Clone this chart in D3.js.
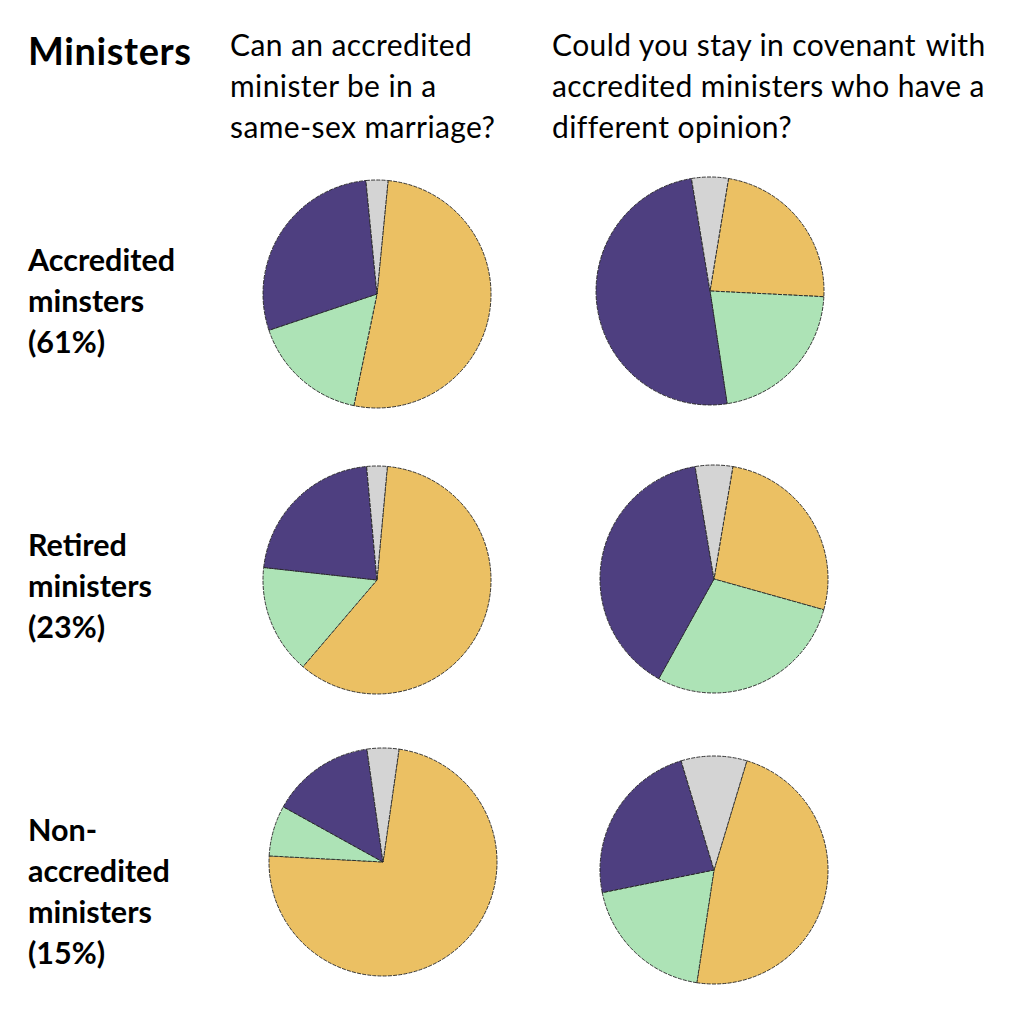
<!DOCTYPE html>
<html>
<head>
<meta charset="utf-8">
<script src="https://cdn.jsdelivr.net/npm/d3@7"></script>
<style>
  html, body { margin: 0; background: #fff; }
  svg { display: block; }
  text { font-family: Lato, "Open Sans", sans-serif; fill: #000; }
</style>
</head>
<body>
<svg id="chart" width="1024" height="1030"></svg>
<script>
// answers, same order clockwise in every pie
var answers = ["Yes", "No", "Other", "Don't know"];
var colours = ["#ebc063", "#ade3b6", "#4e3f80", "#d4d4d4"];

// share of answers (%)
var marriageAccredited = [51.7, 16.6, 28.6, 3.1];
var marriageRetired    = [59.8, 15.5, 21.8, 2.9];
var marriageNon        = [73.6, 7.2, 14.7, 4.5];
var covenantAccredited = [23.2, 21.8, 49.8, 5.2];
var covenantRetired    = [26.7, 28.7, 39.3, 5.3];
var covenantNon        = [47.7, 19.4, 23.5, 9.3];

var title = "Ministers";
var questionOne = ["Can an accredited", "minister be in a", "same-sex marriage?"];
var questionTwo = ["Could you stay in covenant\u200a with", "accredited ministers who have a", "different opinion?"];
var groupAccredited = ["Accredited", "minsters", "(61%)"];
var groupRetired = ["Retired", "ministers", "(23%)"];
var groupNon = ["Non-", "accredited", "ministers", "(15%)"];

var svg = d3.select("#chart");
var radius = 114;

var arc = d3.arc().innerRadius(0).outerRadius(radius);
var colour = d3.scaleOrdinal().domain(d3.range(answers.length)).range(colours);

// the grey slice is centred on 12 o'clock, so the pie starts half of it past the top
function drawPie(values, cx, cy) {
    var offset = values[3] / d3.sum(values) * Math.PI;
    var pie = d3.pie().sort(null)
        .startAngle(offset)
        .endAngle(offset + 2 * Math.PI);

    svg.append("g")
        .attr("transform", "translate(" + cx + "," + cy + ")")
        .selectAll("path")
        .data(pie(values))
        .enter().append("path")
            .attr("d", arc)
            .attr("fill", function(d, i) { return colour(i); })
            .attr("stroke", "#222")
            .attr("stroke-width", 0.9)
            .attr("stroke-dasharray", "4,1.2");
}

function drawLines(lines, x, y, step, size, weight, spacing) {
    svg.append("g").selectAll("text")
        .data(lines)
        .enter().append("text")
            .attr("x", x)
            .attr("y", function(d, i) { return y + i * step; })
            .attr("font-size", size)
            .attr("font-weight", weight)
            .attr("letter-spacing", spacing)
            .text(function(d) { return d; });
}

drawPie(marriageAccredited, 377, 294);
drawPie(covenantAccredited, 710, 291);
drawPie(marriageRetired, 377, 580);
drawPie(covenantRetired, 714, 579);
drawPie(marriageNon, 383, 862);
drawPie(covenantNon, 714, 870);

drawLines([title], 28, 65, 0, 38, 700, 0.6);
drawLines(questionOne, 230, 56, 41, 30, 400, 0.4);
drawLines(questionTwo, 552, 56, 41, 30, 400, 0.4);
drawLines(groupAccredited, 28, 271, 41, 30.5, 700, 0);
drawLines(groupRetired, 28, 556, 41, 30.5, 700, 0);
drawLines(groupNon, 28, 841, 41, 30.5, 700, 0);
</script>
</body>
</html>
